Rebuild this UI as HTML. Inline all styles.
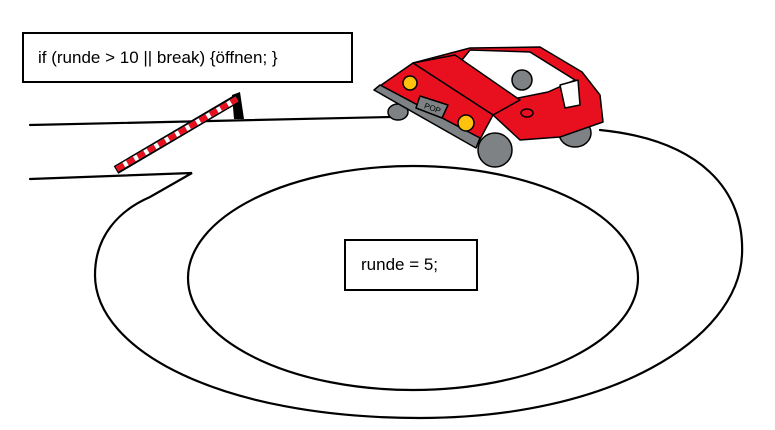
<!DOCTYPE html>
<html><head><meta charset="utf-8"><style>
body{margin:0;width:775px;height:430px;background:#fff;overflow:hidden;position:relative;font-family:"Liberation Sans",sans-serif}
.box{position:absolute;border:2px solid #000;background:#fff;box-sizing:border-box;font-size:17px;color:#000;display:flex;align-items:center}
</style></head><body>
<svg width="775" height="430" style="position:absolute;left:0;top:0">
<g fill="none" stroke="#000" stroke-width="2.2" stroke-linecap="round">
<path d="M30,125 L390,117"/>
<path d="M600,130 C700,140 745,190 742,255 C738,340 610,418 420,418 C220,418 95,350 95,275 C95,235 120,210 150,197 L192,173 L30,179"/>
<ellipse cx="413" cy="278" rx="225" ry="112"/>
</g>
<!-- barrier -->
<polygon points="232,95 240,92 244,119 234,119" fill="#000"/>
<line x1="116" y1="170" x2="238" y2="98" stroke="#000" stroke-width="9"/>
<line x1="117" y1="169" x2="237" y2="99" stroke="#fff" stroke-width="5.5"/>
<line x1="117" y1="169" x2="237" y2="99" stroke="#e8101e" stroke-width="5.5" stroke-dasharray="8,4"/>
<!-- car -->
<g stroke="#000" stroke-width="1.5" stroke-linejoin="round">
<ellipse cx="398" cy="112" rx="10" ry="8" fill="#7f8284"/>
<ellipse cx="575" cy="133" rx="16" ry="14" fill="#7f8284"/>
<polygon points="413,63 470,48 540,47 582,72 600,95 603,122 560,137 520,140 493,115" fill="#e8101e"/>
<polygon points="470,50 530,52 575,80 548,92 508,100 462,60" fill="#fff"/>
<polygon points="560,85 578,80 580,105 565,108" fill="#fff"/>
<circle cx="522" cy="80" r="10" fill="#7f8284"/>
<polygon points="413,63 455,55 520,100 493,115" fill="#e8101e"/>
<polygon points="377,88 413,63 493,115 478,143" fill="#e8101e"/>
<polygon points="374,90 380,85 480,138 476,148" fill="#7f8284"/>
<circle cx="410" cy="83" r="7" fill="#ffc20e"/>
<circle cx="466" cy="123" r="8" fill="#ffc20e"/>
<polygon points="420,96 448,105 442,118 416,108" fill="#7f8284"/>
<ellipse cx="495" cy="150" rx="17" ry="17" fill="#7f8284"/>
<ellipse cx="527" cy="113" rx="6" ry="4" fill="#e8101e"/>
</g>
<text x="424" y="110" font-size="8" font-family="Liberation Sans" transform="rotate(20 430 108)">POP</text>
</svg>
<div class="box" style="left:22px;top:32px;width:331px;height:51px;padding-left:14px">if (runde &gt; 10 || break) {öffnen; }</div>
<div class="box" style="left:344px;top:239px;width:134px;height:52px;padding-left:15px">runde = 5;</div>
</body></html>
